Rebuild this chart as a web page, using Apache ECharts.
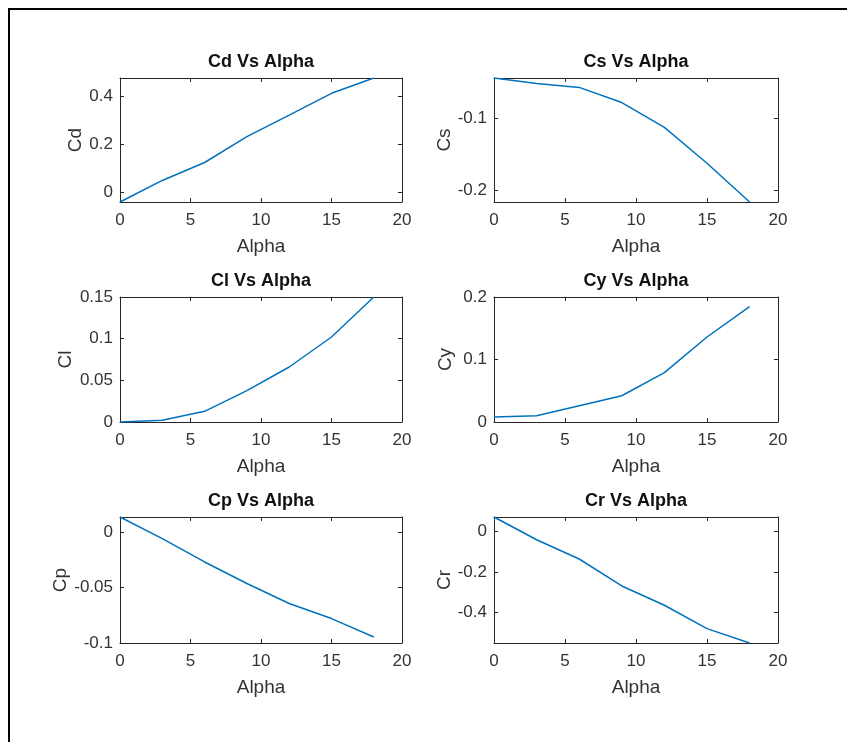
<!DOCTYPE html>
<html><head><meta charset="utf-8">
<script src="https://cdn.jsdelivr.net/npm/echarts@6/dist/echarts.min.js"></script>
<style>
html,body{margin:0;padding:0;background:#fff;overflow:hidden;}
#c{width:847px;height:742px;position:absolute;left:0;top:0;}
#frame{position:absolute;left:8px;top:8px;right:0;bottom:0;border-left:2px solid #000;border-top:2px solid #000;pointer-events:none;}
</style>
</head><body><div id="c"></div><div id="frame"></div>
<script>
// ---- data ----
const alpha = [0, 3, 6, 9, 12, 15, 18];
const cd = [-0.04, 0.05, 0.125, 0.233, 0.323, 0.414, 0.478];
const cs = [-0.044, -0.0516, -0.057, -0.078, -0.1124, -0.162, -0.2156];
const cl = [0, 0.002, 0.0128, 0.0376, 0.066, 0.102, 0.15];
const cy = [0.008, 0.010, 0.026, 0.042, 0.079, 0.136, 0.1845];
const cp = [0.0135, -0.006, -0.027, -0.0464, -0.0644, -0.078, -0.0946];
const cr = [0.071, -0.041, -0.136, -0.269, -0.364, -0.479, -0.55];

const titles = ['Cd Vs Alpha', 'Cs Vs Alpha', 'Cl Vs Alpha', 'Cy Vs Alpha', 'Cp Vs Alpha', 'Cr Vs Alpha'];
const yNames = ['Cd', 'Cs', 'Cl', 'Cy', 'Cp', 'Cr'];
const xName = 'Alpha';
const xTicks = [0, 5, 10, 15, 20];
const yTicksCd = [0, 0.2, 0.4];
const yTicksCs = [-0.2, -0.1];
const yTicksCl = [0, 0.05, 0.1, 0.15];
const yTicksCy = [0, 0.1, 0.2];
const yTicksCp = [-0.1, -0.05, 0];
const yTicksCr = [-0.4, -0.2, 0];
const yLimCd = [-0.04, 0.478];
const yLimCs = [-0.2156, -0.044];
const yLimCl = [0, 0.15];
const yLimCy = [0, 0.2];
const yLimCp = [-0.1, 0.0135];
const yLimCr = [-0.55, 0.071];

// ---- layout ----
const panels = [
  {vals: cd, ticks: yTicksCd, lim: yLimCd, left: 120, top: 78, w: 282, h: 124, yGap: 35},
  {vals: cs, ticks: yTicksCs, lim: yLimCs, left: 494, top: 78, w: 284, h: 124, yGap: 39},
  {vals: cl, ticks: yTicksCl, lim: yLimCl, left: 120, top: 297, w: 282, h: 125, yGap: 45},
  {vals: cy, ticks: yTicksCy, lim: yLimCy, left: 494, top: 297, w: 284, h: 125, yGap: 39},
  {vals: cp, ticks: yTicksCp, lim: yLimCp, left: 120, top: 517, w: 282, h: 126, yGap: 48},
  {vals: cr, ticks: yTicksCr, lim: yLimCr, left: 494, top: 517, w: 284, h: 126, yGap: 39}
];

const FONT = 'Liberation Sans, Arial, sans-serif';
const AX = '#262626';
const grid = [], xAxis = [], yAxis = [], series = [];
panels.forEach((p, i) => {
  grid.push({left: p.left, top: p.top, width: p.w, height: p.h, containLabel: false});
  const line = {show: true, onZero: false, lineStyle: {color: AX, width: 1}};
  const tick = {show: true, inside: true, length: 4, lineStyle: {color: AX, width: 1}};
  // bottom x
  xAxis.push({
    type: 'value', gridIndex: i, min: 0, max: 20, interval: 5, position: 'bottom',
    axisLine: line, axisTick: tick, splitLine: {show: false},
    axisLabel: {color: '#333', fontFamily: FONT, fontSize: 17, margin: 10},
    name: xName, nameLocation: 'middle', nameGap: 35,
    nameTextStyle: {color: '#333', fontFamily: FONT, fontSize: 19}
  });
  // top x (box + title)
  xAxis.push({
    type: 'value', gridIndex: i, min: 0, max: 20, interval: 5, position: 'top',
    axisLine: line, axisTick: tick, splitLine: {show: false}, axisLabel: {show: false},
    name: titles[i], nameLocation: 'middle', nameGap: 7,
    nameTextStyle: {color: '#111', fontFamily: FONT, fontSize: 18, fontWeight: 'bold'}
  });
  // left y
  yAxis.push({
    type: 'value', gridIndex: i, min: p.lim[0], max: p.lim[1], position: 'left',
    axisLine: line,
    axisTick: Object.assign({}, tick, {customValues: p.ticks}),
    splitLine: {show: false},
    axisLabel: {color: '#333', fontFamily: FONT, fontSize: 17, margin: 7, customValues: p.ticks,
      formatter: v => String(Math.round(v * 1000) / 1000)},
    name: yNames[i], nameLocation: 'middle', nameGap: p.yGap,
    nameTextStyle: {color: '#333', fontFamily: FONT, fontSize: 19}
  });
  // right y (box)
  yAxis.push({
    type: 'value', gridIndex: i, min: p.lim[0], max: p.lim[1], position: 'right',
    axisLine: line,
    axisTick: Object.assign({}, tick, {customValues: p.ticks}),
    splitLine: {show: false}, axisLabel: {show: false, customValues: p.ticks}
  });
  series.push({
    type: 'line', xAxisIndex: 2 * i, yAxisIndex: 2 * i,
    data: alpha.map((a, k) => [a, p.vals[k]]),
    showSymbol: false, symbol: 'none', clip: true,
    lineStyle: {color: '#0072BD', width: 1.5}, itemStyle: {color: '#0072BD'}
  });
});

const chart = echarts.init(document.getElementById('c'), null, {renderer: 'canvas'});
chart.setOption({animation: false, backgroundColor: '#fff', grid, xAxis, yAxis, series});
</script>
</body></html>
